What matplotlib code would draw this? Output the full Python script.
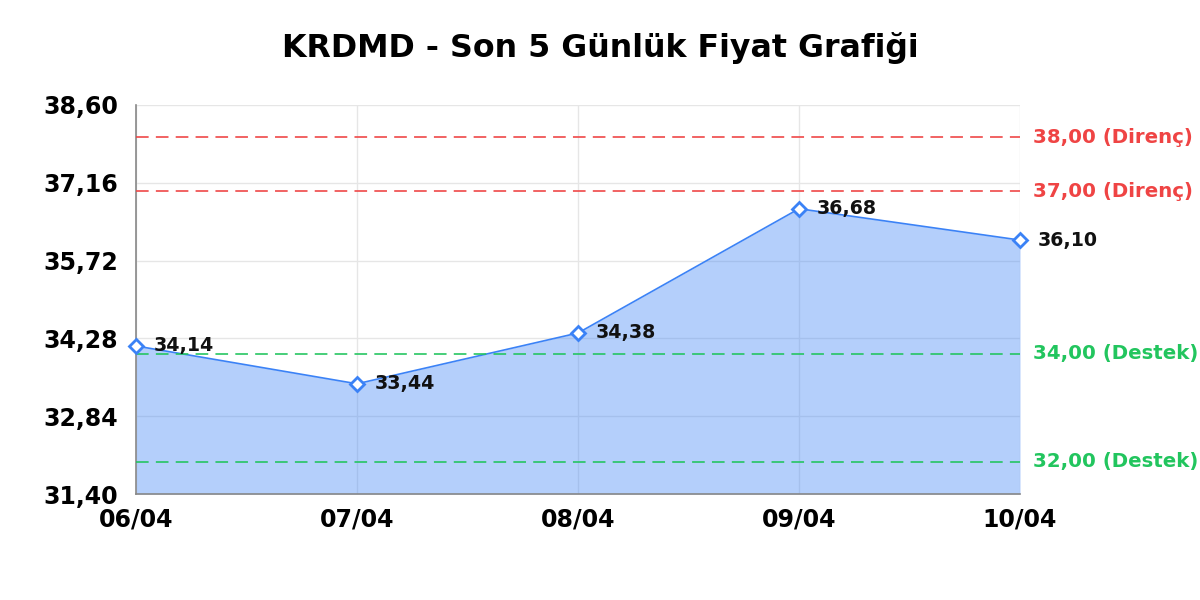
import matplotlib
matplotlib.use("Agg")
import matplotlib.pyplot as plt

dates = ["06/04", "07/04", "08/04", "09/04", "10/04"]
prices = [34.14, 33.44, 34.38, 36.68, 36.10]
resistance = [38.00, 37.00]
support = [34.00, 32.00]
yticks = [31.40, 32.84, 34.28, 35.72, 37.16, 38.60]
title = "KRDMD - Son 5 Günlük Fiyat Grafiği"

def fmt(v):
    return f"{v:.2f}".replace(".", ",")

fig = plt.figure(figsize=(12, 6), dpi=100)
ax = fig.add_axes([136/1200, 1 - 494/600, (1020-136)/1200, (494-105)/600])

x = list(range(len(dates)))
line_c = "#3b82f6"
ax.fill_between(x, prices, yticks[0], color="#3b82f6", alpha=0.38, linewidth=0, zorder=2)
ax.plot(x, prices, color=line_c, lw=1.2, zorder=3)
ax.plot(x, prices, linestyle="none", marker="D", ms=7, mfc="white", mec=line_c, mew=2, zorder=5, clip_on=False)

for xi, v in zip(x, prices):
    ax.annotate(fmt(v), (xi, v), xytext=(18, 0), textcoords="offset pixels",
                ha="left", va="center", fontsize=13.7, fontweight="bold", color="#111111", zorder=6,
                annotation_clip=False)

for r in resistance:
    ax.axhline(r, color="#ef4444", lw=1.3, ls=(0, (7, 4)), zorder=4, alpha=0.9)
    ax.annotate(f"{fmt(r)} (Direnç)", (1, r), xycoords=("axes fraction", "data"), xytext=(13, 0),
                textcoords="offset pixels", ha="left", va="center", fontsize=14.2, fontweight="bold",
                color="#ef4444", annotation_clip=False)
for s in support:
    ax.axhline(s, color="#22c55e", lw=1.3, ls=(0, (7, 4)), zorder=4, alpha=0.9)
    ax.annotate(f"{fmt(s)} (Destek)", (1, s), xycoords=("axes fraction", "data"), xytext=(13, 0),
                textcoords="offset pixels", ha="left", va="center", fontsize=14.2, fontweight="bold",
                color="#22c55e", annotation_clip=False)

ax.set_xlim(0, len(dates) - 1)
ax.set_ylim(yticks[0], yticks[-1])
ax.set_yticks(yticks)
ax.set_yticklabels([fmt(t) for t in yticks], fontsize=17, fontweight="bold")
ax.set_xticks(x)
ax.set_xticklabels(dates, fontsize=17, fontweight="bold")
ax.tick_params(axis="both", length=0)
ax.tick_params(axis="y", pad=13)
ax.tick_params(axis="x", pad=10)
ax.grid(True, color="#e6e6e6", lw=1, zorder=0)
ax.set_axisbelow(True)
for side in ["top", "right"]:
    ax.spines[side].set_visible(False)
for side in ["left", "bottom"]:
    ax.spines[side].set_color("#888888")
    ax.spines[side].set_linewidth(1.2)

fig.text(0.5, 1 - 48/600, title, ha="center", va="center", fontsize=22.8, fontweight="bold")

fig.savefig("out.png", dpi=100)
